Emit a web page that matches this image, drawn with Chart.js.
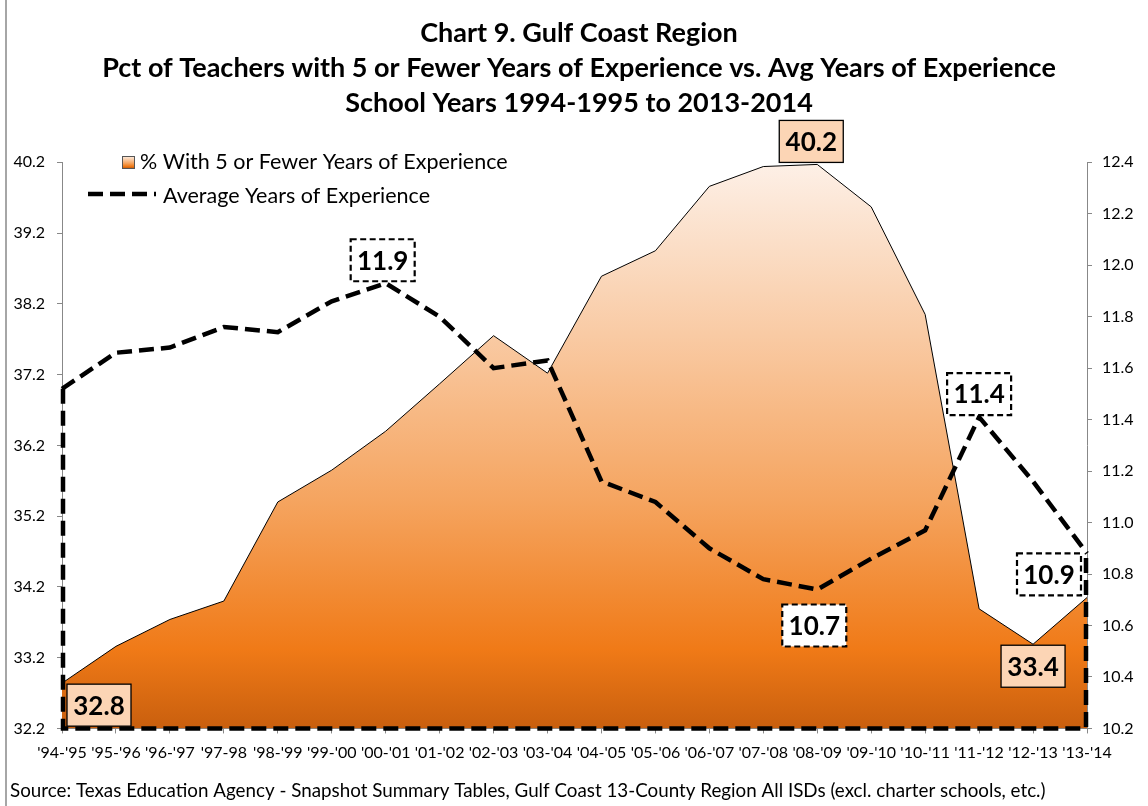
<!doctype html>
<html lang="en">
<head>
<meta charset="UTF-8" />
<title>Chart 9. Gulf Coast Region</title>
<script src="https://cdn.jsdelivr.net/npm/chart.js@4.4.1/dist/chart.umd.min.js"></script>
<style>
    html, body { margin: 0; padding: 0; background: #fff; }
</style>
</head>
<body>
<canvas id="myChart" width="1148" height="806"></canvas>
<script>
// chart data
const schoolYears = ["'94-'95", "'95-'96", "'96-'97", "'97-98", "'98-'99", "'99-'00", "'00-'01", "'01-'02", "'02-'03", "'03-'04",
    "'04-'05", "'05-'06", "'06-'07", "'07-'08", "'08-'09", "'09-'10", "'10-'11", "'11-'12", "'12-'13", "'13-'14"];
const pctFewYears = [32.84, 33.36, 33.74, 34.0, 35.4, 35.85, 36.4, 37.07, 37.75, 37.22,
    38.59, 38.95, 39.86, 40.14, 40.17, 39.57, 38.05, 33.89, 33.39, 34.05];
const avgYears = [11.52, 11.66, 11.68, 11.76, 11.74, 11.86, 11.93, 11.80, 11.60, 11.63,
    11.16, 11.08, 10.90, 10.78, 10.74, 10.86, 10.97, 11.41, 11.16, 10.88];
const leftTicks = [32.2, 33.2, 34.2, 35.2, 36.2, 37.2, 38.2, 39.2, 40.2];
const rightTicks = [10.2, 10.4, 10.6, 10.8, 11.0, 11.2, 11.4, 11.6, 11.8, 12.0, 12.2, 12.4];
const titleLines = ["Chart 9. Gulf Coast Region",
    "Pct of Teachers with 5 or Fewer Years of Experience vs. Avg Years of Experience",
    "School Years 1994-1995 to 2013-2014"];
const sourceNote = "Source: Texas Education Agency - Snapshot Summary Tables, Gulf Coast 13-County Region All ISDs (excl. charter schools, etc.)";

const FONT = "Lato, 'Open Sans', sans-serif";
const DASH = [15, 7];

// which points get a value box (dataset, index, where)
const callouts = [
    { ds: 0, i: 0, place: 'belowRight', dx: 0, dy: 0, style: 'solid' },
    { ds: 0, i: 14, place: 'above', dx: -6, dy: 0, style: 'solid' },
    { ds: 0, i: 18, place: 'below', dx: 0, dy: 0, style: 'solid' },
    { ds: 1, i: 6, place: 'above', dx: -3, dy: 0, style: 'dashed' },
    { ds: 1, i: 14, place: 'below', dx: -3, dy: 14, style: 'dashed' },
    { ds: 1, i: 17, place: 'above', dx: 0, dy: 0, style: 'dashed' },
    { ds: 1, i: 19, place: 'leftBelow', dx: 0, dy: 0, style: 'dashed' }
];

function orangeGradient(ctx, top, bottom) {
    const g = ctx.createLinearGradient(0, top, 0, bottom);
    g.addColorStop(0, '#fdf0e7');
    g.addColorStop(0.3, '#f9cba5');
    g.addColorStop(0.6, '#f5a45f');
    g.addColorStop(0.86, '#f07a17');
    g.addColorStop(1, '#c95f0e');
    return g;
}

function areaFill(context) {
    const area = context.chart.chartArea;
    if (!area) return '#f79646';
    return orangeGradient(context.chart.ctx, area.top, area.bottom);
}

/* frame line + avg line edges (Excel drew it as an unfilled area) */
const edgesPlugin = {
    id: 'edges',
    beforeDraw(chart) {
        const c = chart.ctx;
        c.save();
        c.strokeStyle = '#a6a6a6';
        c.lineWidth = 2;
        c.beginPath();
        c.moveTo(6, 0);
        c.lineTo(6, chart.height);
        c.stroke();
        c.restore();
    },
    afterDatasetsDraw(chart) {
        const pts = chart.getDatasetMeta(1).data;
        const bottom = chart.chartArea.bottom;
        const first = pts[0], last = pts[pts.length - 1];
        const c = chart.ctx;
        c.save();
        c.strokeStyle = '#000';
        c.lineWidth = 4.5;
        c.setLineDash(DASH);
        c.beginPath();
        c.moveTo(first.x + 1, first.y);
        c.lineTo(first.x + 1, bottom);
        c.lineTo(last.x - 1, bottom);
        c.lineTo(last.x - 1, last.y);
        c.stroke();
        c.restore();
    }
};

/* legend drawn inside the plot, top left */
const legendPlugin = {
    id: 'insideLegend',
    afterDraw(chart) {
        const c = chart.ctx;
        const ds = chart.data.datasets;
        c.save();
        c.font = '21.5px ' + FONT;
        c.textBaseline = 'middle';
        // area swatch
        c.fillStyle = orangeGradient(c, 156, 168);
        c.fillRect(122, 156, 12, 12);
        c.strokeStyle = '#555';
        c.lineWidth = 1;
        c.strokeRect(122.5, 156.5, 12, 12);
        c.fillStyle = '#000';
        c.fillText(ds[0].label, 140, 162);
        // dashed line swatch
        c.strokeStyle = '#000';
        c.lineWidth = 4.5;
        c.setLineDash(DASH);
        c.beginPath();
        c.moveTo(88, 194);
        c.lineTo(156, 194);
        c.stroke();
        c.setLineDash([]);
        c.fillText(ds[1].label, 163, 196);
        c.restore();
    }
};

/* value boxes */
const calloutPlugin = {
    id: 'callouts',
    afterDraw(chart) {
        const c = chart.ctx;
        const w = 64, h = 42;
        c.save();
        callouts.forEach(function (co) {
            const pt = chart.getDatasetMeta(co.ds).data[co.i];
            const val = chart.data.datasets[co.ds].data[co.i];
            let x0, y0;
            if (co.place === 'belowRight') { x0 = pt.x + 5; y0 = pt.y + 1; }
            else if (co.place === 'above') { x0 = pt.x - w / 2; y0 = pt.y - h - 2; }
            else if (co.place === 'below') { x0 = pt.x - w / 2; y0 = pt.y + 1; }
            else { x0 = pt.x - w - 6; y0 = pt.y; }
            x0 += co.dx;
            y0 += co.dy;
            if (co.style === 'solid') {
                c.fillStyle = '#fcd5b5';
                c.fillRect(x0, y0, w, h);
                c.setLineDash([]);
                c.lineWidth = 1.3;
            } else {
                c.fillStyle = '#fff';
                c.fillRect(x0, y0, w, h);
                c.setLineDash([6, 3.5]);
                c.lineWidth = 2.2;
            }
            c.strokeStyle = '#000';
            c.strokeRect(x0, y0, w, h);
            c.setLineDash([]);
            c.fillStyle = '#000';
            c.font = 'bold 26px ' + FONT;
            c.textAlign = 'center';
            c.textBaseline = 'middle';
            c.fillText(val.toFixed(1), x0 + w / 2, y0 + h / 2 + 1);
        });
        c.restore();
    }
};

const ctx = document.getElementById('myChart');

new Chart(ctx, {
    type: 'line',
    data: {
        labels: schoolYears,
        datasets: [
            {
                label: '% With 5 or Fewer Years of Experience',
                data: pctFewYears,
                yAxisID: 'y',
                fill: 'start',
                backgroundColor: areaFill,
                borderColor: '#000',
                borderWidth: 1,
                pointRadius: 0,
                tension: 0,
                order: 2
            },
            {
                label: 'Average Years of Experience',
                data: avgYears,
                yAxisID: 'y1',
                fill: false,
                borderColor: '#000',
                borderWidth: 4.5,
                borderDash: DASH,
                borderCapStyle: 'butt',
                pointRadius: 0,
                tension: 0,
                order: 1
            }
        ]
    },
    options: {
        responsive: false,
        animation: false,
        devicePixelRatio: 1,
        layout: { padding: { left: 10, right: 0, top: 0, bottom: 0 } },
        plugins: {
            legend: { display: false },
            tooltip: { enabled: false },
            title: {
                display: true,
                text: titleLines,
                color: '#000',
                font: { family: FONT, size: 27, weight: 'bold', lineHeight: 1.3 },
                padding: { top: 16, bottom: 41 }
            },
            subtitle: {
                display: true,
                text: sourceNote,
                position: 'bottom',
                align: 'start',
                color: '#000',
                font: { family: FONT, size: 18.8, lineHeight: 1.2 },
                padding: { top: 0, bottom: 4 }
            }
        },
        scales: {
            x: {
                offset: false,
                grid: { drawOnChartArea: false, color: '#888', tickLength: 5 },
                border: { color: '#888' },
                ticks: { autoSkip: false, maxRotation: 0, minRotation: 0, padding: 10, color: '#000',
                    font: { family: FONT, size: 16 } },
                afterFit: function (s) { s.height = 51; }
            },
            y: {
                position: 'left',
                min: 32.2,
                max: 40.2,
                afterBuildTicks: function (s) { s.ticks = leftTicks.map(v => ({ value: v })); },
                grid: { drawOnChartArea: false, color: '#888', tickLength: 5 },
                border: { color: '#888' },
                ticks: { padding: 12, color: '#000', font: { family: FONT, size: 16 },
                    callback: v => Number(v).toFixed(1) },
                afterFit: function (s) { s.width = 52; }
            },
            y1: {
                position: 'right',
                min: 10.2,
                max: 12.4,
                afterBuildTicks: function (s) { s.ticks = rightTicks.map(v => ({ value: v })); },
                grid: { drawOnChartArea: false, color: '#888', tickLength: 5 },
                border: { color: '#888' },
                ticks: { padding: 10, color: '#000', font: { family: FONT, size: 16 },
                    callback: v => Number(v).toFixed(1) },
                afterFit: function (s) { s.width = 61; }
            }
        }
    },
    plugins: [edgesPlugin, legendPlugin, calloutPlugin]
});
</script>
</body>
</html>
